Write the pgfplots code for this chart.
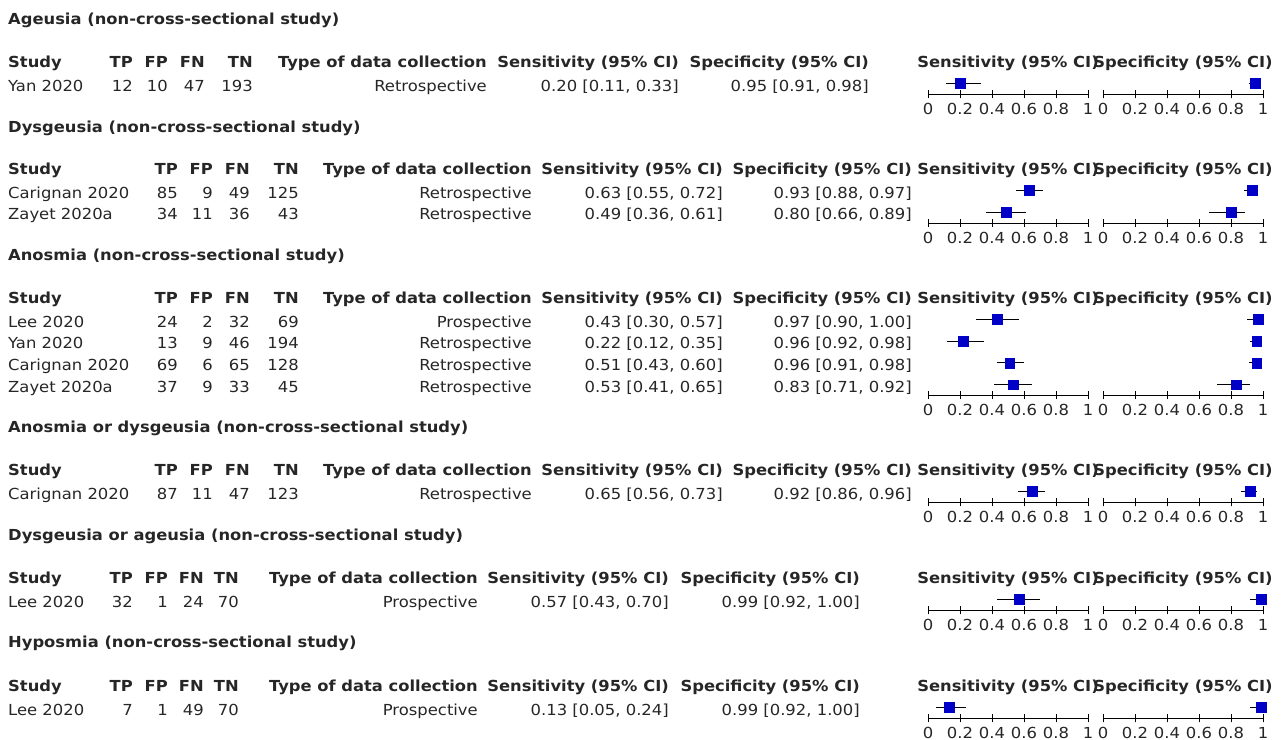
\documentclass[border=0pt]{standalone}
\usepackage{fontspec}
\setmainfont{DejaVu Sans}[FakeStretch=1.08, BoldFeatures={FakeStretch=1.075}]
\usepackage{pgfplots}
\pgfplotsset{compat=1.18}
\usepackage{pgfplotstable}
\definecolor{txt}{rgb}{0.15,0.15,0.15}
\definecolor{mk}{rgb}{0,0,0.78}
\newcommand\fs{\fontsize{15.2bp}{17bp}\selectfont}

% pos = row from the bottom (n..1 top to bottom)
\pgfplotstableread{
pos est lo hi
1 0.20 0.11 0.33
}\seA
\pgfplotstableread{
pos est lo hi
1 0.95 0.91 0.98
}\spA
\pgfplotstableread{
pos est lo hi
2 0.63 0.55 0.72
1 0.49 0.36 0.61
}\seB
\pgfplotstableread{
pos est lo hi
2 0.93 0.88 0.97
1 0.80 0.66 0.89
}\spB
\pgfplotstableread{
pos est lo hi
4 0.43 0.30 0.57
3 0.22 0.12 0.35
2 0.51 0.43 0.60
1 0.53 0.41 0.65
}\seC
\pgfplotstableread{
pos est lo hi
4 0.97 0.90 1.00
3 0.96 0.92 0.98
2 0.96 0.91 0.98
1 0.83 0.71 0.92
}\spC
\pgfplotstableread{
pos est lo hi
1 0.65 0.56 0.73
}\seD
\pgfplotstableread{
pos est lo hi
1 0.92 0.86 0.96
}\spD
\pgfplotstableread{
pos est lo hi
1 0.57 0.43 0.70
}\seE
\pgfplotstableread{
pos est lo hi
1 0.99 0.92 1.00
}\spE
\pgfplotstableread{
pos est lo hi
1 0.13 0.05 0.24
}\seF
\pgfplotstableread{
pos est lo hi
1 0.99 0.92 1.00
}\spF

\pgfplotsset{fp/.style={
  scale only axis, width=160bp,
  xmin=0, xmax=1, ymin=0.5,
  axis x line*=bottom, axis y line=none,
  xtick={0,0.2,0.4,0.6,0.8,1},
  xticklabels={0,0.2,0.4,0.6,0.8,1},
  ytick=\empty,
  tick align=center, major tick length=8bp,
  every tick/.style={black, line width=0.9bp},
  axis line style={black, line width=0.9bp},
  xticklabel style={font=\fs, text=txt, inner sep=0pt, anchor=north, yshift=-5bp},
  clip=false, anchor=south west,
}}

\newcommand\forest[4]{% axis-line y (px), rows, sens table, spec table
  \begin{axis}[fp, height=#2*21.7bp, ymax=#2+0.5, at={(928bp,-#1bp)}]
    \addplot[only marks, mark=square*, mark size=4.9bp, mark options={draw=mk, fill=mk},
      error bars/.cd, x dir=both, x explicit, error mark=none,
      error bar style={black, line width=1bp}]
      table[x=est, y=pos, x error plus expr=\thisrow{hi}-\thisrow{est},
            x error minus expr=\thisrow{est}-\thisrow{lo}] {#3};
  \end{axis}
  \begin{axis}[fp, height=#2*21.7bp, ymax=#2+0.5, at={(1103bp,-#1bp)}]
    \addplot[only marks, mark=square*, mark size=4.9bp, mark options={draw=mk, fill=mk},
      error bars/.cd, x dir=both, x explicit, error mark=none,
      error bar style={black, line width=1bp}]
      table[x=est, y=pos, x error plus expr=\thisrow{hi}-\thisrow{est},
            x error minus expr=\thisrow{est}-\thisrow{lo}] {#4};
  \end{axis}
}

\newcommand\setcols[7]{\def\cTP{#1}\def\cFP{#2}\def\cFN{#3}\def\cTN{#4}\def\cTy{#5}\def\cSe{#6}\def\cSp{#7}}
\newcommand\ttl[2]{\node[anchor=mid west] at (8,#1) {\bfseries #2};}
\newcommand\hdr[1]{%
  \node[anchor=mid west] at (8,#1) {\bfseries Study};
  \node[anchor=mid east] at (\cTP,#1) {\bfseries TP};
  \node[anchor=mid east] at (\cFP,#1) {\bfseries FP};
  \node[anchor=mid east] at (\cFN,#1) {\bfseries FN};
  \node[anchor=mid east] at (\cTN,#1) {\bfseries TN};
  \node[anchor=mid east] at (\cTy,#1) {\bfseries Type of data collection};
  \node[anchor=mid east] at (\cSe,#1) {\bfseries Sensitivity (95\% CI)};
  \node[anchor=mid east] at (\cSp,#1) {\bfseries Specificity (95\% CI)};
  \node[anchor=mid] at (1008,#1) {\bfseries Sensitivity (95\% CI)};
  \node[anchor=mid] at (1183,#1) {\bfseries Specificity (95\% CI)};}
\newcommand\rw[9]{%
  \node[anchor=mid west] at (8,#1) {#2};
  \node[anchor=mid east] at (\cTP,#1) {#3};
  \node[anchor=mid east] at (\cFP,#1) {#4};
  \node[anchor=mid east] at (\cFN,#1) {#5};
  \node[anchor=mid east] at (\cTN,#1) {#6};
  \node[anchor=mid east] at (\cTy,#1) {#7};
  \node[anchor=mid east] at (\cSe,#1) {#8};
  \node[anchor=mid east] at (\cSp,#1) {#9};}

\begin{document}
\begin{tikzpicture}
\path[use as bounding box] (0,0) rectangle (1282bp,-740bp);
\begin{scope}[x=1bp, y=-1bp, every node/.style={inner sep=0pt, font=\fs, text=txt, yshift=-3.5bp}]
% Section 1
\setcols{133}{168}{205}{253}{487}{679}{869}
\ttl{18}{Ageusia (non-cross-sectional study)}
\hdr{61}
\rw{85}{Yan 2020}{12}{10}{47}{193}{Retrospective}{0.20 [0.11, 0.33]}{0.95 [0.91, 0.98]}
% Section 2
\setcols{178}{213}{250}{299}{532}{723}{912}
\ttl{126}{Dysgeusia (non-cross-sectional study)}
\hdr{168}
\rw{192}{Carignan 2020}{85}{9}{49}{125}{Retrospective}{0.63 [0.55, 0.72]}{0.93 [0.88, 0.97]}
\rw{213.7}{Zayet 2020a}{34}{11}{36}{43}{Retrospective}{0.49 [0.36, 0.61]}{0.80 [0.66, 0.89]}
% Section 3
\ttl{254}{Anosmia (non-cross-sectional study)}
\hdr{297}
\rw{321}{Lee 2020}{24}{2}{32}{69}{Prospective}{0.43 [0.30, 0.57]}{0.97 [0.90, 1.00]}
\rw{342.7}{Yan 2020}{13}{9}{46}{194}{Retrospective}{0.22 [0.12, 0.35]}{0.96 [0.92, 0.98]}
\rw{364.4}{Carignan 2020}{69}{6}{65}{128}{Retrospective}{0.51 [0.43, 0.60]}{0.96 [0.91, 0.98]}
\rw{386.1}{Zayet 2020a}{37}{9}{33}{45}{Retrospective}{0.53 [0.41, 0.65]}{0.83 [0.71, 0.92]}
% Section 4
\ttl{426}{Anosmia or dysgeusia (non-cross-sectional study)}
\hdr{469}
\rw{493}{Carignan 2020}{87}{11}{47}{123}{Retrospective}{0.65 [0.56, 0.73]}{0.92 [0.86, 0.96]}
% Section 5
\setcols{133}{168}{204}{239}{478}{669}{860}
\ttl{534}{Dysgeusia or ageusia (non-cross-sectional study)}
\hdr{577}
\rw{601}{Lee 2020}{32}{1}{24}{70}{Prospective}{0.57 [0.43, 0.70]}{0.99 [0.92, 1.00]}
% Section 6
\ttl{641}{Hyposmia (non-cross-sectional study)}
\hdr{685}
\rw{709}{Lee 2020}{7}{1}{49}{70}{Prospective}{0.13 [0.05, 0.24]}{0.99 [0.92, 1.00]}
\end{scope}
\forest{94.35}{1}{\seA}{\spA}
\forest{223.05}{2}{\seB}{\spB}
\forest{395.45}{4}{\seC}{\spC}
\forest{502.35}{1}{\seD}{\spD}
\forest{610.35}{1}{\seE}{\spE}
\forest{718.35}{1}{\seF}{\spF}
\end{tikzpicture}
\end{document}
